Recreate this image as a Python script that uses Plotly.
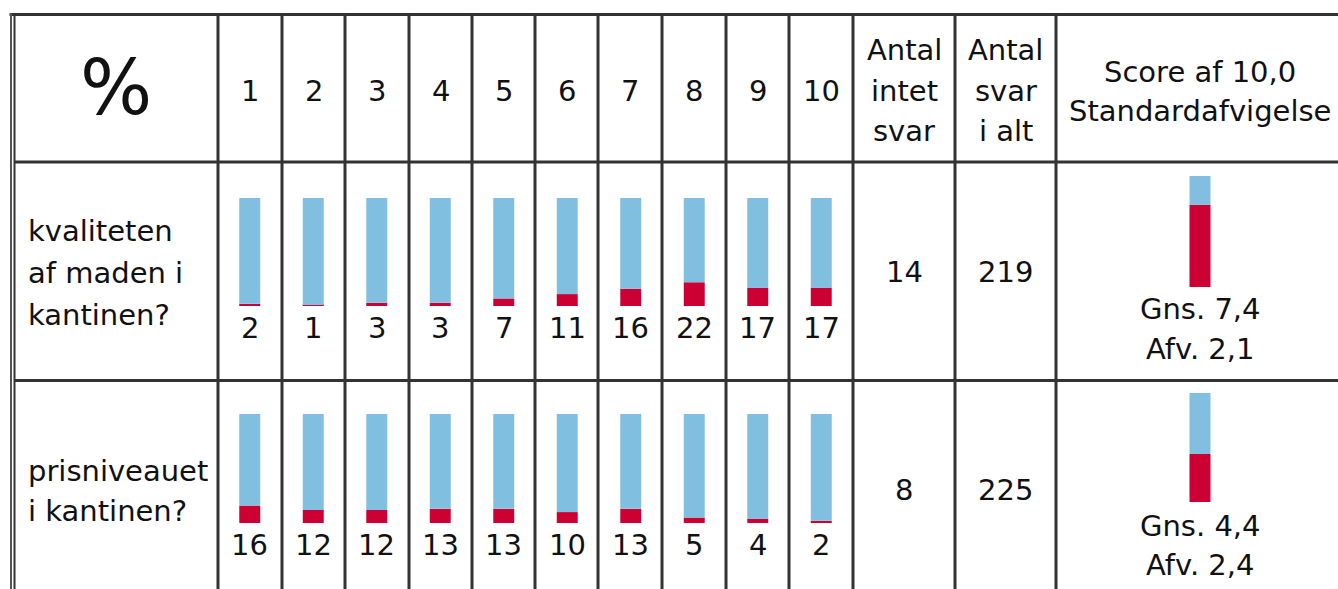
import plotly.graph_objects as go

# ---------------- data ----------------
categories = ["1", "2", "3", "4", "5", "6", "7", "8", "9", "10"]
row1_label = ["kvaliteten", "af maden i", "kantinen?"]
row2_label = ["prisniveauet", "i kantinen?"]
row1_pct = [2, 1, 3, 3, 7, 11, 16, 22, 17, 17]
row2_pct = [16, 12, 12, 13, 13, 10, 13, 5, 4, 2]
no_answer = [14, 8]
total_answers = [219, 225]
mean_score = [7.4, 4.4]
std_dev = [2.1, 2.4]
score_max = 10.0
header_corner = "%"
header_no_answer = ["Antal", "intet", "svar"]
header_total = ["Antal", "svar", "i alt"]
header_score = ["Score af 10,0", "Standardafvigelse"]

# ---------------- style ----------------
W, H = 1338, 589
BLUE = "#80bfe0"
RED = "#cc0033"
LINE = "#333333"
FONT = "Verdana, DejaVu Sans, sans-serif"
FS = 29
TXT = "#111111"


def px(x):
    return x / W


def py(y):
    return 1 - y / H


col_edges = [218, 282, 345, 409, 472, 535, 598, 662, 726, 789, 853, 955, 1056]
row_edges = [14.5, 162, 380.5]
score_cx = 1200

fig = go.Figure()

rows = [row1_pct, row2_pct]
bar_yaxes = ["y", "y2"]
score_yaxes = ["y3", "y4"]
for r, vals in enumerate(rows):
    fig.add_trace(go.Bar(x=categories, y=vals, base=[0] * len(vals), width=0.33,
                         marker=dict(color=RED, line=dict(width=0)),
                         xaxis="x", yaxis=bar_yaxes[r], showlegend=False, hoverinfo="skip"))
    fig.add_trace(go.Bar(x=categories, y=[100 - v for v in vals], base=vals, width=0.33,
                         marker=dict(color=BLUE, line=dict(width=0)),
                         xaxis="x", yaxis=bar_yaxes[r], showlegend=False, hoverinfo="skip"))
    fig.add_trace(go.Bar(x=["score"], y=[mean_score[r]], base=[0], width=0.35,
                         marker=dict(color=RED, line=dict(width=0)),
                         xaxis="x2", yaxis=score_yaxes[r], showlegend=False, hoverinfo="skip"))
    fig.add_trace(go.Bar(x=["score"], y=[score_max - mean_score[r]], base=[mean_score[r]], width=0.35,
                         marker=dict(color=BLUE, line=dict(width=0)),
                         xaxis="x2", yaxis=score_yaxes[r], showlegend=False, hoverinfo="skip"))

ann = []


def text(x, y, s, size=FS, xanchor="center", yanchor="middle", **kw):
    d = dict(x=x, y=y, text=s, showarrow=False, xanchor=xanchor, yanchor=yanchor,
             font=dict(family=FONT, size=size, color=TXT))
    d.setdefault("xref", "paper")
    d.setdefault("yref", "paper")
    d.update(kw)
    ann.append(d)


# bar value labels (category index positions on the category axis)
for r, vals in enumerate(rows):
    for i, v in enumerate(vals):
        text(i, 0, str(v), xref="x", yref=bar_yaxes[r], yanchor="top", yshift=-3)

# header
text(px(116), py(88), header_corner, size=76)
for i, c in enumerate(categories):
    cx = (col_edges[i] + col_edges[i + 1]) / 2
    text(px(cx), py(91), c)
cx_no = (col_edges[10] + col_edges[11]) / 2
cx_tot = (col_edges[11] + col_edges[12]) / 2
for k, (a, b) in enumerate(zip(header_no_answer, header_total)):
    yy = 50 + 40.5 * k
    text(px(cx_no), py(yy), a)
    text(px(cx_tot), py(yy), b)
text(px(score_cx), py(72), header_score[0])
text(px(score_cx), py(111), header_score[1])

# row labels
for k, s in enumerate(row1_label):
    text(px(26), py(231 + 42 * k), s, xanchor="left")
for k, s in enumerate(row2_label):
    text(px(26), py(471 + 40 * k), s, xanchor="left")

# counts
row_cy = [272, 490]
for r in range(2):
    text(px(cx_no), py(row_cy[r]), str(no_answer[r]))
    text(px(cx_tot), py(row_cy[r]), str(total_answers[r]))

# score texts
gns_y = [309, 526]
afv_y = [349, 565]
for r in range(2):
    text(px(score_cx), py(gns_y[r]), "Gns. " + f"{mean_score[r]:.1f}".replace(".", ","))
    text(px(score_cx), py(afv_y[r]), "Afv. " + f"{std_dev[r]:.1f}".replace(".", ","))

# table grid
shapes = []


def line(x0, y0, x1, y1, color=LINE, width=3):
    shapes.append(dict(type="line", xref="paper", yref="paper",
                       x0=px(x0), y0=py(y0), x1=px(x1), y1=py(y1),
                       line=dict(color=color, width=width)))


line(9.5, row_edges[0], W + 5, row_edges[0])
line(14, row_edges[1], W + 5, row_edges[1])
line(14, row_edges[2], W + 5, row_edges[2])
line(11, 13, 11, H + 5, color="#555555", width=2)
line(14.5, 13, 14.5, H + 5, color=LINE, width=2)
for xe in col_edges:
    line(xe, row_edges[0], xe, H + 5)

fig.update_layout(
    width=W, height=H,
    margin=dict(l=0, r=0, t=0, b=0),
    paper_bgcolor="white", plot_bgcolor="rgba(0,0,0,0)",
    barmode="overlay",
    showlegend=False,
    shapes=shapes,
    annotations=ann,
    xaxis=dict(domain=[px(col_edges[0]), px(col_edges[10])], type="category",
               range=[-0.5, 9.5], visible=False, fixedrange=True),
    xaxis2=dict(domain=[px(score_cx - 30), px(score_cx + 30)], type="category",
                range=[-0.5, 0.5], visible=False, anchor="y3", fixedrange=True),
    yaxis=dict(domain=[py(306), py(198)], range=[0, 100], visible=False, anchor="x", fixedrange=True),
    yaxis2=dict(domain=[py(523), py(414)], range=[0, 100], visible=False, anchor="x", fixedrange=True),
    yaxis3=dict(domain=[py(287), py(176)], range=[0, score_max], visible=False, anchor="x2", fixedrange=True),
    yaxis4=dict(domain=[py(502), py(393)], range=[0, score_max], visible=False, anchor="x2", fixedrange=True),
)

fig.write_html("out.html", config={"displayModeBar": False},
               post_script="document.body.style.margin='0';document.body.style.overflow='hidden';")
